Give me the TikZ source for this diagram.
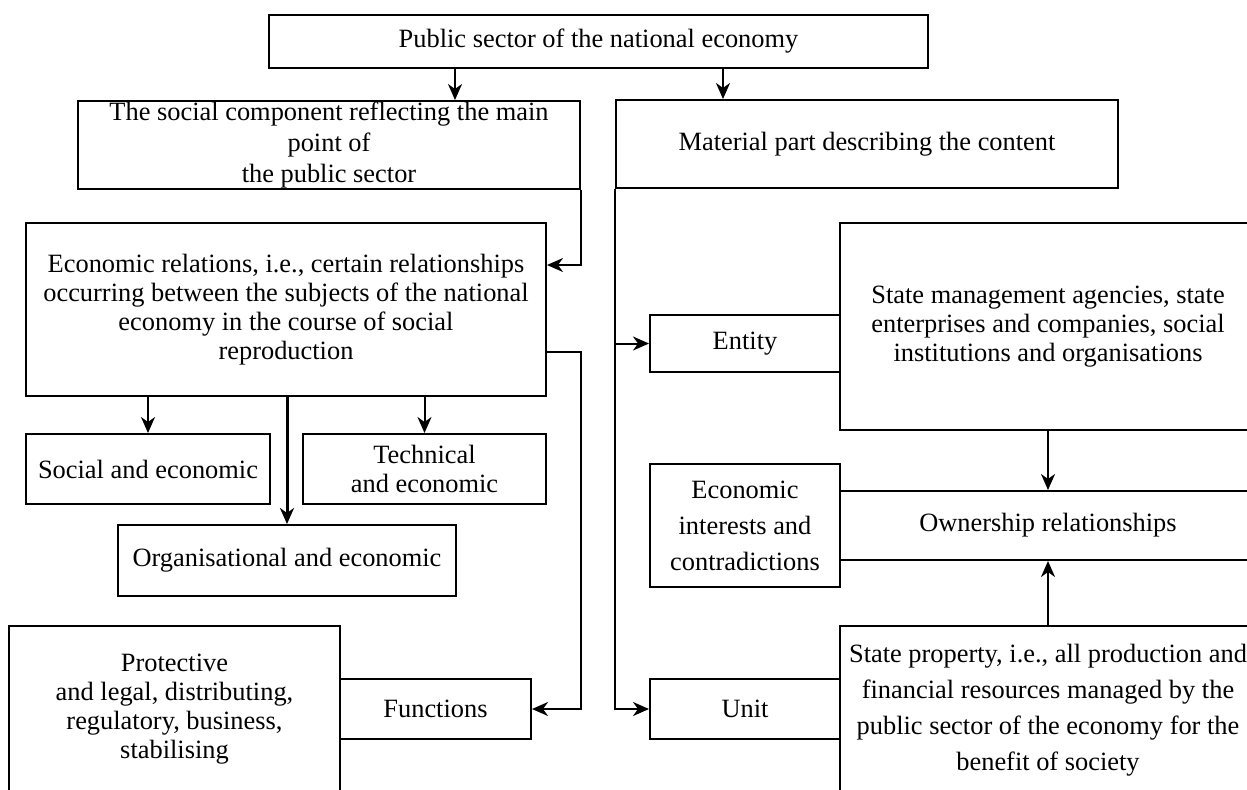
\documentclass[tikz,border=0pt]{standalone}
\usepackage{fontspec}
\setmainfont{Liberation Serif}
\usetikzlibrary{arrows.meta}
\begin{document}
\begin{tikzpicture}[x=0.5pt,y=-0.5pt,
  box/.style={draw, line width=1pt, align=center, inner sep=0pt, font=\fontsize{13.2}{14.6}\selectfont},
  widebox/.style={box, font=\fontsize{13.2}{18}\selectfont},
  conn/.style={line width=1pt, -{Stealth[length=8pt,width=7pt,inset=2.5pt]}},
  thickconn/.style={conn, line width=1.5pt},
  plain/.style={line width=1pt}]
\useasboundingbox (0,0) rectangle (1247,789);
\fill[white] (0,0) rectangle (1247,789);
\clip (0,0) rectangle (1247,789);
% nodes
\node[box, minimum width=329.5pt, minimum height=26.5pt] (top) at (598.5,41.5) {Public sector of the national economy};
\node[box, minimum width=251pt, minimum height=44pt, font=\fontsize{13.2}{15.5}\selectfont] (social) at (329,145) {The social component reflecting the main\\point of\\the public sector};
\node[box, minimum width=251pt, minimum height=44pt] (material) at (867,144) {Material part describing the content};
\node[box, minimum width=260pt, minimum height=86.5pt] (econ) at (286,309.5) {Economic relations, i.e., certain relationships\\occurring between the subjects of the national\\economy in the course of social\\reproduction};
\node[box, minimum width=122pt, minimum height=35pt] (socecon) at (148,469) {Social and economic};
\node[box, minimum width=121.5pt, minimum height=35pt] (tech) at (424.5,469) {Technical\\and economic};
\node[box, minimum width=169pt, minimum height=35.5pt] (org) at (287,560.5) {Organisational and economic};
\node[box, minimum width=165.5pt, minimum height=83pt] (prot) at (174.5,709) {Protective\\and legal, distributing,\\regulatory, business,\\stabilising};
\node[box, minimum width=95.5pt, minimum height=30pt] (func) at (435.5,709) {Functions};
\node[box, minimum width=95pt, minimum height=28.5pt] (entity) at (745,343.5) {Entity};
\node[box, minimum width=208pt, minimum height=103.5pt] (mgmt) at (1048,326.5) {State management agencies, state\\enterprises and companies, social\\institutions and organisations};
\node[widebox, minimum width=95pt, minimum height=61.5pt] (econint) at (745,525.5) {Economic\\interests and\\contradictions};
\node[box, minimum width=208pt, minimum height=34.5pt] (own) at (1048,525.5) {Ownership relationships};
\node[box, minimum width=95pt, minimum height=30pt] (unit) at (745,709) {Unit};
\node[widebox, minimum width=208pt, minimum height=84pt] (prop) at (1048,710) {State property, i.e., all production and\\financial resources managed by the\\public sector of the economy for the\\benefit of society};
% helper coordinates
\coordinate (a1) at (455,0);
\coordinate (a2) at (723,0);
\coordinate (y1) at (0,265);
\coordinate (y2) at (0,352);
% connectors
\draw[conn] (top.south -| a1) -- (social.north -| a1);
\draw[conn] (top.south -| a2) -- (material.north -| a2);
\draw[conn] (social.south east) -- (social.south east |- y1) -- (econ.east |- y1);
\draw[conn] (econ.east |- y2) -- (social.east |- y2) -- (social.east |- func.east) -- (func.east);
\draw[conn] (econ.south -| socecon.north) -- (socecon.north);
\draw[conn] (econ.south -| tech.north) -- (tech.north);
\draw[thickconn] (econ.south -| org.north) -- (org.north);
\draw[conn] (material.south west) -- (material.south west |- unit.west) -- (unit.west);
\draw[conn] (material.south west |- entity.west) -- (entity.west);
\draw[conn] (mgmt.south) -- (own.north);
\draw[conn] (prop.north) -- (own.south);
\end{tikzpicture}
\end{document}
